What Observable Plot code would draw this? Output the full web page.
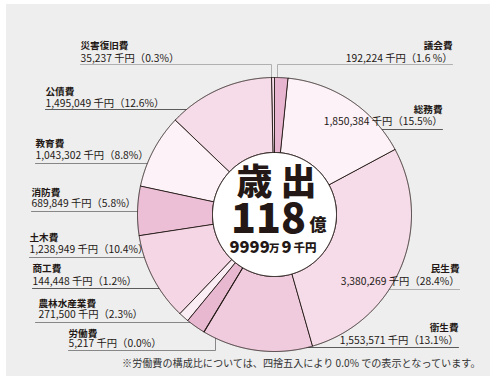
<!DOCTYPE html>
<html><head><meta charset="utf-8">
<script src="https://cdn.jsdelivr.net/npm/d3@7"></script>
<script src="https://cdn.jsdelivr.net/npm/@observablehq/plot@0.6"></script>
<style>
html,body{margin:0;padding:0;background:#fff;}
#wrap{position:relative;width:500px;height:381px;overflow:hidden;}
#bg{position:absolute;left:6px;top:4px;width:484px;height:372px;background:#eeeeee;}
#chart{position:absolute;left:0;top:0;}
</style></head><body>
<div id="wrap"><div id="bg"></div><div id="chart"></div></div>
<script>
// ---- data (clockwise from 12 o'clock) ----
const categories = ["議会費","総務費","民生費","衛生費","労働費","農林水産業費","商工費","土木費","消防費","教育費","公債費","災害復旧費"];
const values = [192224,1850384,3380269,1553571,5217,271500,144448,1238949,689849,1043302,1495049,35237]; // 千円
const pctLabels = ["1.6 %","15.5%","28.4%","13.1%","0.0%","2.3%","1.2%","10.4%","5.8%","8.8%","12.6%","0.3%"];
const centerTitle = "歳 出";
const footnote = "※労働費の構成比については、四捨五入により 0.0% での表示となっています。";

// ---- styles ----
const sliceColors = ["#e7b5cf","#fcf2f7","#f6dce8","#f0cadd","#f6dce8","#e8b7d0","#fbedf4","#f4d6e4","#ecbfd6","#fcf2f7","#f6dce8","#f6dce8"];
const ink = "#231815";

// ---- layout (pixel geometry, converted to chart units) ----
const CX = 274, CY = 214, R = 137, RI = 62;
const ux = px => (px - CX) / R, uy = py => (CY - py) / R;
const layout = {
  "災害復旧費": {side:"L", x:80,  yn:45,  yv:58,  path:[[80,64],[271,64],[271,86]], tone:"light"},
  "公債費":     {side:"L", x:45,  yn:91,  yv:103, path:[[45,109],[227,109]], tone:"dark"},
  "教育費":     {side:"L", x:35,  yn:143, yv:155, path:[[35,163],[178,163]], tone:"mid"},
  "消防費":     {side:"L", x:31,  yn:192, yv:203, path:[[31,211],[165,211]], tone:"mid"},
  "土木費":     {side:"L", x:29,  yn:237, yv:249, path:[[29,257],[178,257]], tone:"mid"},
  "商工費":     {side:"L", x:32,  yn:268, yv:281, path:[[32,288],[205,288]], tone:"dark"},
  "農林水産業費": {side:"L", x:38, yn:303, yv:314, path:[[35,322],[203,322]], tone:"mid"},
  "労働費":     {side:"L", x:68,  yn:333, yv:343, path:[[68,350],[215,350],[215,318]], tone:"mid"},
  "議会費":     {side:"R", x:452, yn:45,  yv:58,  path:[[452,64],[277,64],[277,86]], tone:"light"},
  "総務費":     {side:"R", x:442, yn:109, yv:121, path:[[442,129],[307,129]], tone:"dark"},
  "民生費":     {side:"R", x:459, yn:268, yv:281, path:[[459,289],[323,289]], tone:"light"},
  "衛生費":     {side:"R", x:458, yn:327, yv:340, path:[[458,347],[262,347]], tone:"dark"}
};
const toneColor = {light:"#a8a8a8", mid:"#7a7a7a", dark:"#4a4a4a"};

// ---- build slices ----
const arcs = d3.pie().sort(null).value(d => d)(values);
const ri = RI / R;
const slicePts = arcs.flatMap((a, i) => {
  const pts = [];
  const n = Math.max(2, Math.ceil((a.endAngle - a.startAngle) / 0.004));
  for (let k = 0; k <= n; k++) {
    const t = a.startAngle + (a.endAngle - a.startAngle) * k / n;
    pts.push({cat: categories[i], x: Math.sin(t), y: Math.cos(t)});
  }
  for (let k = n; k >= 0; k--) {
    const t = a.startAngle + (a.endAngle - a.startAngle) * k / n;
    pts.push({cat: categories[i], x: ri * Math.sin(t), y: ri * Math.cos(t)});
  }
  return pts;
});
const innerPts = d3.range(0, 361, 1).map(d => ({x: ri * Math.sin(d * Math.PI / 180), y: ri * Math.cos(d * Math.PI / 180)}));

// ---- labels ----
const fmt = d3.format(",");
const labelRows = categories.map((c, i) => ({
  cat: c, side: layout[c].side,
  x: ux(layout[c].x), yn: uy(layout[c].yn), yv: uy(layout[c].yv),
  value: `${fmt(values[i])} 千円（${pctLabels[i]}）`
}));
const leaderPts = categories.flatMap(c => layout[c].path.map(([px, py]) => ({cat: c, tone: layout[c].tone, x: ux(px), y: uy(py)})));

// ---- total ----
const total = d3.sum(values); // 千円
const oku = Math.floor(total / 100000);
const man = Math.floor((total % 100000) / 10);
const sen = total % 10;
const centerRows = [
  {x: ux(276), y: uy(183), t: centerTitle, size: 36, anchor: "middle"},
  {x: ux(268), y: uy(219), t: String(oku), size: 41, anchor: "middle"},
  {x: ux(309), y: uy(225), t: "億", size: 17, anchor: "start"},
  {x: ux(229), y: uy(247), t: String(man), size: 16.5, anchor: "start"},
  {x: ux(268.5), y: uy(248), t: "万", size: 10.5, anchor: "start"},
  {x: ux(281), y: uy(247), t: String(sen), size: 16.5, anchor: "start"},
  {x: ux(293), y: uy(248), t: "千円", size: 11.5, anchor: "start"}
];

const font = "'Noto Sans CJK JP', 'Noto Sans', sans-serif";
const tones = ["light", "mid", "dark"];

const chart = Plot.plot({
  width: 500, height: 381, margin: 0,
  x: {domain: [ux(0), ux(500)], range: [0, 500], axis: null},
  y: {domain: [uy(381), uy(0)], range: [381, 0], axis: null},
  color: {domain: categories, range: sliceColors},
  style: {background: "transparent", fontFamily: font, color: ink, overflow: "visible"},
  marks: [
    ...tones.map(t => Plot.line(leaderPts.filter(d => d.tone === t), {x: "x", y: "y", z: "cat", stroke: toneColor[t], strokeWidth: 0.9})),
    Plot.line(slicePts, {x: "x", y: "y", z: "cat", fill: "cat", stroke: ink, strokeWidth: 0.9, curve: "linear-closed"}),
    Plot.line(innerPts, {x: "x", y: "y", fill: "#ffffff", stroke: ink, strokeWidth: 1, curve: "linear-closed"}),
    ...["L", "R"].flatMap(s => [
      Plot.text(labelRows.filter(d => d.side === s), {x: "x", y: "yn", text: "cat", textAnchor: s === "L" ? "start" : "end", fontSize: 9.6, fontWeight: "bold", fill: ink}),
      Plot.text(labelRows.filter(d => d.side === s), {x: "x", y: "yv", text: "value", textAnchor: s === "L" ? "start" : "end", fontSize: 10.3, fill: ink})
    ]),
    ...centerRows.map(d => Plot.text([d], {x: "x", y: "y", text: "t", textAnchor: d.anchor, fontSize: d.size, fontWeight: 900, fill: ink})),
    Plot.text([footnote], {frameAnchor: "bottom-right", dx: -20, dy: -15, text: d => d, fontSize: 10.1, fill: "#333"})
  ]
});
document.getElementById("chart").appendChild(chart);
</script>
</body></html>
